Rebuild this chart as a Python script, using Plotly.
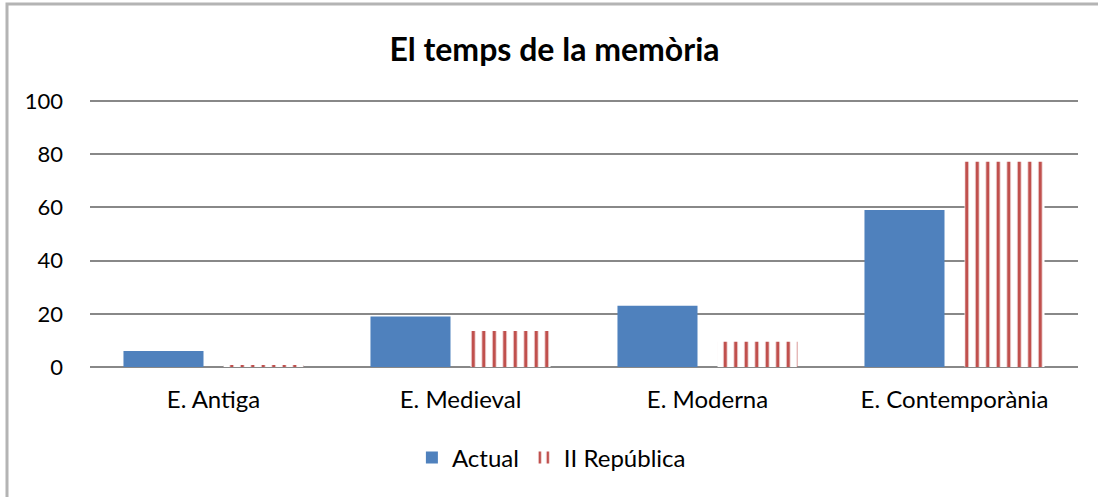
import plotly.graph_objects as go

# dades llegides del gràfic
categories = ["E. Antiga", "E. Medieval", "E. Moderna", "E. Contemporània"]
actual = [6, 19, 23, 59]
republica = [0.7, 13.5, 9.5, 77.2]

blue = "#4F81BD"
red = "#C0504D"
font_family = "Lato, 'Open Sans', sans-serif"

fig = go.Figure()

fig.add_trace(go.Bar(
    x=categories, y=actual, name="Actual",
    marker=dict(color=blue, line=dict(width=0)),
))

fig.add_trace(go.Bar(
    x=categories, y=republica, name="II República",
    marker=dict(
        color="white",
        line=dict(width=0),
        pattern=dict(shape="|", fgcolor=red, bgcolor="white",
                     size=10.5, solidity=0.32, fillmode="replace"),
    ),
))

fig.update_layout(
    width=1098, height=497,
    margin=dict(l=90, r=20, t=100, b=130, autoexpand=False),
    paper_bgcolor="white", plot_bgcolor="white",
    font=dict(family=font_family, size=22, color="#000000"),
    title=dict(text="<b>El temps de la memòria</b>", x=0.505, xanchor="center",
               y=0.9, yanchor="middle", font=dict(size=32, color="#000000")),
    barmode="group", bargap=0.19, bargroupgap=0.2,
    legend=dict(orientation="h", x=0.467, xanchor="center", y=-0.34, yanchor="middle",
                font=dict(size=24), itemsizing="constant"),
    xaxis=dict(showgrid=False, showline=False, ticks="", tickfont=dict(size=24),
               ticklabelstandoff=16, automargin=False),
    yaxis=dict(range=[0, 100.4], dtick=20, showgrid=True, gridcolor="#888888",
               gridwidth=1.5, zeroline=True, zerolinecolor="#888888", zerolinewidth=1.5,
               showline=False, ticks="", tickfont=dict(size=22), ticklabelstandoff=26,
               automargin=False),
    showlegend=True,
)

# vora del gràfic
fig.add_shape(type="rect", xref="paper", yref="paper",
              x0=(7 - 90) / 988, x1=1.2, y0=-1.0, y1=(367 - 4) / 267,
              line=dict(color="#B4B4B4", width=3), fillcolor="rgba(0,0,0,0)", layer="below")

# sense el marge per defecte de la pàgina
fig.write_html("out.html", config={"displayModeBar": False},
               post_script="document.body.style.margin='0';")
